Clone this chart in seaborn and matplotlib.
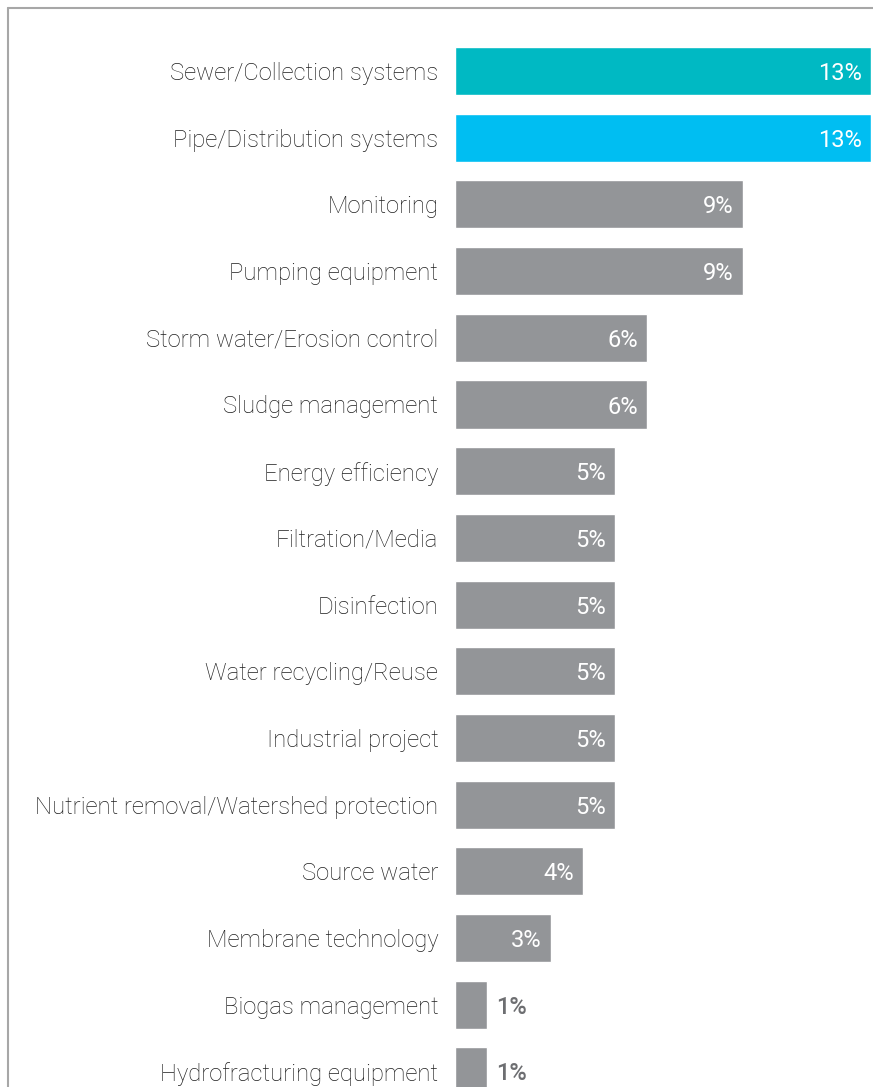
import matplotlib
matplotlib.use("Agg")
import matplotlib.pyplot as plt
import seaborn as sns
import pandas as pd
from matplotlib.lines import Line2D

categories = [
    "Sewer/Collection systems",
    "Pipe/Distribution systems",
    "Monitoring",
    "Pumping equipment",
    "Storm water/Erosion control",
    "Sludge management",
    "Energy efficiency",
    "Filtration/Media",
    "Disinfection",
    "Water recycling/Reuse",
    "Industrial project",
    "Nutrient removal/Watershed protection",
    "Source water",
    "Membrane technology",
    "Biogas management",
    "Hydrofracturing equipment",
]
values = [13, 13, 9, 9, 6, 6, 5, 5, 5, 5, 5, 5, 4, 3, 1, 1]
colors = ["#00B9C3", "#00BEF2"] + ["#939598"] * 14

df = pd.DataFrame({"category": categories, "value": values})

sns.set_style("white")
plt.rcParams["font.family"] = ["Roboto", "DejaVu Sans"]

W, H = 873, 1087
fig = plt.figure(figsize=(W / 100, H / 100), dpi=100)
# axes placed in pixels: bars start at x=455, 1% = 32 px
ax = fig.add_axes([455 / W, 0, 416 / W, 1])

sns.barplot(data=df, x="value", y="category", hue="category", palette=colors,
            legend=False, width=0.72, saturation=1, ax=ax)

pitch = 66.7
ax.set_xlim(0, 13)
ax.set_ylim((H - 71) / pitch, -71 / pitch)
ax.set_xlabel("")
ax.set_ylabel("")
ax.set_xticks([])
ax.tick_params(axis="y", length=0, pad=12, labelsize=17.2, labelcolor="#1e1e1e")
for lab in ax.get_yticklabels():
    lab.set_fontweight("light")
    lab.set_verticalalignment("center_baseline")
sns.despine(ax=ax, left=True, bottom=True, top=True, right=True)

for i, v in enumerate(values):
    if v > 1:
        ax.annotate(f"{v}%", (v, i), xytext=(-6.5, 0), textcoords="offset points",
                    ha="right", va="center_baseline", color="white", fontsize=17,
                    fontweight="normal")
    else:
        ax.annotate(f"{v}%", (v, i), xytext=(6.5, 0), textcoords="offset points",
                    ha="left", va="center_baseline", color="#6d6e71", fontsize=17,
                    fontweight="medium")

# frame lines on top and left of the panel
fig.add_artist(Line2D([7.5 / W, 1], [1 - 7.5 / H, 1 - 7.5 / H], color="#a7a7a7", lw=1.5))
fig.add_artist(Line2D([7.5 / W, 7.5 / W], [0, 1 - 7.5 / H], color="#a7a7a7", lw=1.5))

fig.savefig("out.png", dpi=100)
